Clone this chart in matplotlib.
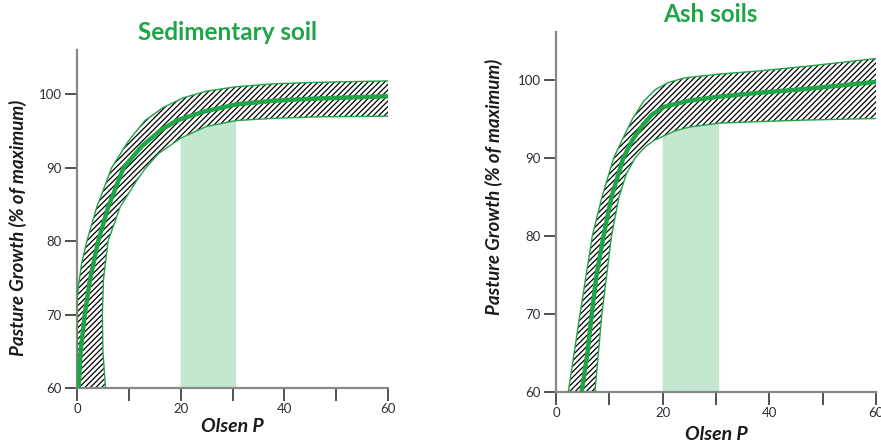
import numpy as np
import matplotlib
matplotlib.use("Agg")
import matplotlib.pyplot as plt

plt.rcParams["font.family"] = ["Lato", "DejaVu Sans"]
plt.rcParams["hatch.linewidth"] = 0.9

# Sedimentary soil
sed_mid_x = [0.3, 0.7, 1.5, 2.5, 4.1, 6.0, 9.0, 12.5, 16.0, 19.2, 24.4, 30.7, 38.0, 46.3, 60.0]
sed_mid_y = [60, 65, 70, 74.7, 80, 84.6, 90, 92.9, 95.0, 96.4, 97.6, 98.6, 99.1, 99.4, 99.7]
sed_up_x = [0, 0, 0.3, 0.9, 1.9, 3.8, 6.7, 9.9, 13.1, 16.7, 20.5, 25.0, 30.7, 38.0, 46.3, 60.0]
sed_up_y = [60, 72, 74, 77, 80, 84.6, 90, 93.6, 96.4, 98.2, 99.5, 100.4, 101.0, 101.4, 101.6, 101.8]
sed_lo_x = [5.5, 5.0, 4.9, 5.1, 6.0, 8.3, 11.5, 13.1, 15.7, 20.0, 25.0, 30.7, 38.0, 46.3, 60.0]
sed_lo_y = [60, 65, 70, 74.7, 80, 84.6, 88.2, 89.8, 91.9, 94.0, 95.6, 96.4, 96.7, 96.9, 97.0]

# Ash soils
ash_mid_x = [4.8, 5.9, 6.7, 7.6, 8.9, 10.4, 12.6, 14.3, 16.2, 18.0, 20.3, 25.0, 30.6, 38.0, 47.0, 60.0]
ash_mid_y = [60, 65, 70, 75, 80, 85, 90, 92.3, 94.2, 95.6, 96.6, 97.4, 97.9, 98.4, 98.9, 99.8]
ash_up_x = [2.3, 4.5, 6.8, 8.6, 10.8, 12.5, 14.3, 16.4, 18.6, 21.0, 24.0, 30.6, 38.0, 47.0, 60.0]
ash_up_y = [60, 70, 80, 85, 90, 92.5, 95.0, 97.3, 98.8, 99.7, 100.3, 100.8, 101.2, 101.8, 102.8]
ash_lo_x = [7.3, 8.6, 10.4, 11.8, 13.2, 14.8, 16.6, 18.4, 20.0, 22.3, 25.0, 30.6, 38.0, 47.0, 60.0]
ash_lo_y = [60, 70, 80, 85, 88.0, 90, 91.4, 92.3, 92.8, 93.5, 94.0, 94.5, 94.7, 94.9, 95.1]

sed_band = [20, 30.7]
ash_band = [20, 30.6]
x_ticks = [0, 10, 20, 30, 40, 50, 60]
x_labels = ["0", "", "20", "", "40", "", "60"]
y_ticks = [60, 70, 80, 90, 100]

GREEN = "#1fa447"
BAND = "#c4e8cf"
TEXT = "#2e2e3a"

fig = plt.figure(figsize=(8.81, 4.46), dpi=100)
ax1 = fig.add_axes([77 / 881, 58 / 446, 311 / 881, 338 / 446])
ax2 = fig.add_axes([556 / 881, 54 / 446, 320 / 881, 360 / 446])


def draw(ax, mid_x, mid_y, up_x, up_y, lo_x, lo_y, band, ytop):
    lo_x = np.array(lo_x)
    lo_y = np.array(lo_y)
    # optimum band up to the lower curve
    m = (lo_x >= band[0]) & (lo_x <= band[1])
    bx = np.concatenate([[band[0]], lo_x[m], [band[1]]])
    by = np.concatenate([[60], lo_y[m], [60]])
    ax.fill(bx, by, color=BAND, lw=0, zorder=1)
    # hatched confidence region
    px = np.concatenate([up_x, lo_x[::-1]])
    py = np.concatenate([up_y, lo_y[::-1]])
    ax.fill(px, py, facecolor="none", edgecolor="black", hatch="//////", lw=0, zorder=2)
    ax.plot(up_x, up_y, color=GREEN, lw=1.0, zorder=3)
    ax.plot(lo_x, lo_y, color=GREEN, lw=1.0, zorder=3)
    ax.plot(mid_x, mid_y, color=GREEN, lw=3.2, zorder=4, solid_capstyle="butt")

    ax.set_xlim(0, 60)
    ax.set_ylim(60, ytop)
    ax.set_xticks(x_ticks)
    ax.set_xticklabels(x_labels)
    ax.set_yticks(y_ticks)
    ax.tick_params(axis="both", length=9, width=1.2, color="#333333", labelsize=9.5,
                   labelcolor=TEXT, pad=2)
    for s in ["top", "right"]:
        ax.spines[s].set_visible(False)
    for s in ["left", "bottom"]:
        ax.spines[s].set_color("#888888")
        ax.spines[s].set_linewidth(1.6)
    ax.set_facecolor("none")


draw(ax1, sed_mid_x, sed_mid_y, sed_up_x, sed_up_y, sed_lo_x, sed_lo_y, sed_band, 106)
draw(ax2, ash_mid_x, ash_mid_y, ash_up_x, ash_up_y, ash_lo_x, ash_lo_y, ash_band, 106.2)

ylab = "Pasture Growth (% of maximum)"
for ax, lx, ly, xly in [(ax1, -0.16, 0.473, -0.09), (ax2, -0.166, 0.57, -0.095)]:
    ax.set_ylabel(ylab, fontsize=13.5, fontweight="bold", style="italic", color="#1a1a1a")
    ax.yaxis.set_label_coords(lx, ly)
    ax.set_xlabel("Olsen P", fontsize=14, fontweight="bold", style="italic", color="#1a1a1a")
    ax.xaxis.set_label_coords(0.5, xly)

fig.text(227 / 881, 1 - 32 / 446, "Sedimentary soil", ha="center", va="center",
         fontsize=17.5, fontweight="bold", color=GREEN)
fig.text(710 / 881, 1 - 15 / 446, "Ash soils", ha="center", va="center",
         fontsize=17.5, fontweight="bold", color=GREEN)

fig.savefig("out.png", dpi=100)
